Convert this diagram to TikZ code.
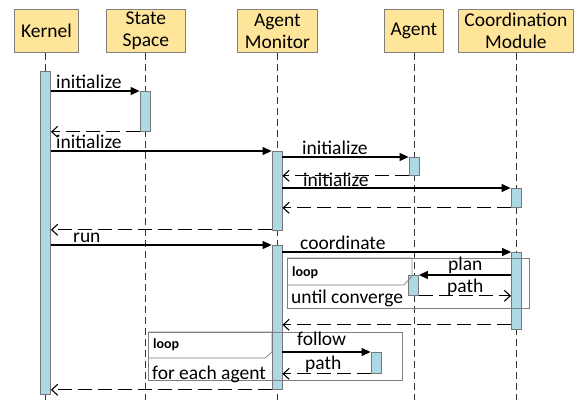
\documentclass[tikz,border=0pt]{standalone}
\usepackage{fontspec}
\setmainfont{Carlito}
\usetikzlibrary{arrows.meta}
\definecolor{hdrfill}{RGB}{255,229,153}
\definecolor{hdrline}{RGB}{128,128,128}
\definecolor{actfill}{RGB}{173,216,230}
\definecolor{actline}{RGB}{120,120,120}
\definecolor{frameline}{RGB}{128,128,128}
\tikzset{
  hdr/.style={draw=hdrline, fill=hdrfill, line width=0.8pt, align=center, inner sep=0pt,
    font=\fontsize{19.5}{22}\selectfont, anchor=north west},
  act/.style={draw=actline, fill=actfill, line width=0.8pt, inner sep=0pt, minimum width=10pt, anchor=north},
  life/.style={draw=black!80, dash pattern=on 7pt off 4pt, line width=0.6pt},
  msg/.style={line width=1.1pt, -{Triangle[length=9pt,width=8pt]}},
  ret/.style={line width=1.1pt, dash pattern=on 14pt off 6pt, -{Straight Barb[length=6pt,width=11pt,line width=1.1pt]}},
  lbl/.style={font=\fontsize{19.5}{22}\selectfont, inner sep=0pt, anchor=base west},
  frm/.style={draw=frameline, line width=0.7pt},
  loopl/.style={font=\fontsize{14}{15}\selectfont\bfseries, inner sep=0pt, anchor=base west},
}
\begin{document}
\begin{tikzpicture}[x=1pt,y=-1pt]
\useasboundingbox (0,0) rectangle (574,402);
% headers
\node[hdr, minimum width=64pt, minimum height=43pt] (hk) at (14,9) {Kernel};
\node[hdr, minimum width=79pt, minimum height=43pt] (hs) at (106,9) {State\\Space};
\node[hdr, minimum width=80pt, minimum height=43pt] (hm) at (237,9) {Agent\\Monitor};
\node[hdr, minimum width=59pt, minimum height=43pt] (ha) at (384,9) {Agent};
\node[hdr, minimum width=115pt, minimum height=43pt] (hc) at (458,9) {Coordination\\Module};
% lifeline ends
\coordinate (ek) at (45.5,400);
\coordinate (es) at (145,400);
\coordinate (em) at (277,400);
\coordinate (ea) at (414,400);
\coordinate (ec) at (516,400);
\draw[life] (hk.south -| ek) -- (ek);
\draw[life] (hs.south -| es) -- (es);
\draw[life] (hm.south -| em) -- (em);
\draw[life] (ha.south -| ea) -- (ea);
\draw[life] (hc.south -| ec) -- (ec);
% activations
\node[act, minimum height=323pt] (k1) at (45.5,71) {};
\node[act, minimum height=40pt] (s1) at (145,91) {};
\node[act, minimum height=79pt] (m1) at (277,151) {};
\node[act, minimum height=18pt] (a1) at (414,157) {};
\node[act, minimum height=19pt] (c1) at (516,188) {};
\node[act, minimum height=144pt] (m2) at (277,245) {};
\node[act, minimum height=77pt] (c2) at (516.5,252) {};
\node[act, minimum height=20pt] (a2) at (413.5,275) {};
\node[act, minimum height=21pt] (a3) at (376,352) {};
% helper coordinates for returns
\coordinate (r8) at ([yshift=1pt]m1.south west);
\coordinate (r13) at ([yshift=5pt]c2.south west);
% frames
\draw[frm] (287,258) rectangle (529,308);
\draw[frm] (287,258) -- (412,258) -- (412,276) -- (404,285) -- (287,285);
\node[loopl] (lp1) at (292,276) {loop};
\node[lbl] (uc) at (291,303) {until converge};
\draw[frm] (148,332) rectangle (402,380);
\draw[frm] (148,332) -- (272,332) -- (272,352) -- (265,358) -- (148,358);
\node[loopl] (lp2) at (153,348) {loop};
\node[lbl] (fe) at (152,379) {for each agent};
% messages
\draw[msg] (k1.east |- s1.north west) -- (s1.north west);
\node[lbl] (l1) at (56,88) {initialize};
\draw[ret] (s1.south west) -- (k1.east |- s1.south west);
\draw[msg] (k1.east |- m1.north west) -- (m1.north west);
\node[lbl] (l2) at (56,148) {initialize};
\draw[msg] (m1.east |- a1.north west) -- (a1.north west);
\node[lbl] (l3) at (302,154) {initialize};
\draw[ret] (a1.south west) -- (m1.east |- a1.south west);
\draw[msg] (m1.east |- c1.north west) -- (c1.north west);
\node[lbl] (l4) at (303,186) {initialize};
\draw[ret] (c1.south west) -- (m1.east |- c1.south west);
\draw[ret] (r8) -- (k1.east |- r8);
\draw[msg] (k1.east |- m2.north west) -- (m2.north west);
\node[lbl] (l5) at (73,242) {run};
\draw[msg] (m2.east |- c2.north west) -- (c2.north west);
\node[lbl] (l6) at (300,249) {coordinate};
\draw[msg] (c2.west |- a2.north east) -- (a2.north east);
\node[lbl] (l7) at (448,270) {plan};
\draw[ret] (a2.south east) -- (c2.west |- a2.south east);
\node[lbl] (l8) at (447,292) {path};
\draw[ret] (r13) -- (m2.east |- r13);
\draw[msg] (m2.east |- a3.north west) -- (a3.north west);
\node[lbl] (l9) at (297,345) {follow};
\draw[ret] (a3.south west) -- (m2.east |- a3.south west);
\node[lbl] (l10) at (305,369) {path};
\draw[ret] (m2.south west) -- (k1.east |- m2.south west);
\end{tikzpicture}
\end{document}
